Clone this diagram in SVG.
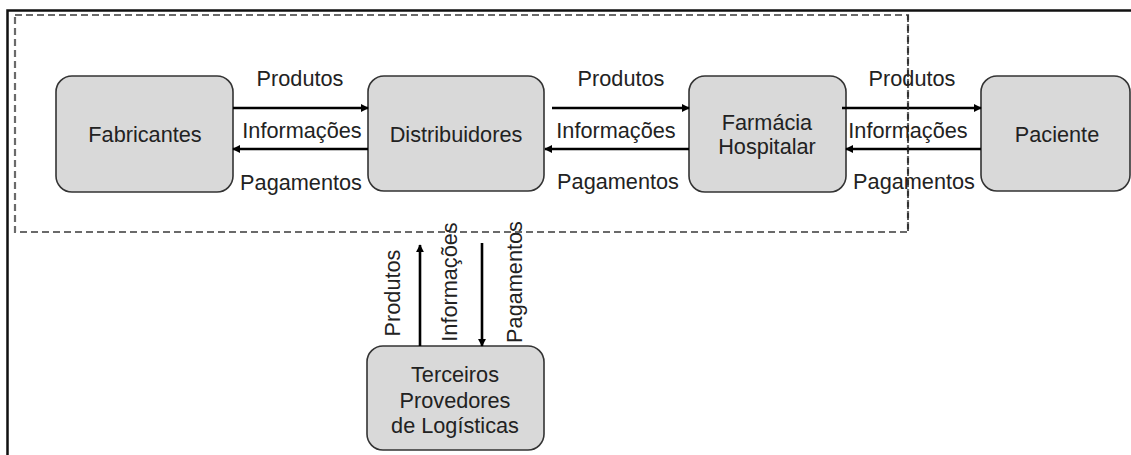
<svg xmlns="http://www.w3.org/2000/svg" width="1131" height="455" viewBox="0 0 1131 455">
<style>
.box{fill:#d9d9d9;stroke:#333;stroke-width:1.6}
.t{font-family:"Liberation Sans",Arial,sans-serif;font-size:21.7px;fill:#222;text-anchor:middle}
.c{stroke:#000;stroke-width:2.6;fill:none}
</style>
<defs>
<marker id="ah" viewBox="0 0 10 10" refX="9" refY="5" markerWidth="3.2" markerHeight="3.2" orient="auto" markerUnits="strokeWidth">
<path d="M0,0 L10,5 L0,10 z" fill="#000"/>
</marker>
</defs>
<rect x="0" y="0" width="1131" height="455" fill="#fff"/>
<path d="M7.5,458 V10.5 H1135" fill="none" stroke="#111" stroke-width="2.5"/>
<rect x="15" y="15" width="893" height="217" fill="none" stroke="#6a6a6a" stroke-width="2.2" stroke-dasharray="7,4"/>
<g id="n-fabricantes">
<rect class="box" x="56" y="76" width="177" height="116" rx="16"/>
<text class="t" x="145" y="142">Fabricantes</text>
</g>
<g id="n-distribuidores">
<rect class="box" x="368" y="76" width="176" height="115" rx="16"/>
<text class="t" x="456" y="142">Distribuidores</text>
</g>
<g id="n-farmacia">
<rect class="box" x="689" y="76" width="157" height="116" rx="16"/>
<text class="t" x="767" y="130">Farmácia</text>
<text class="t" x="767" y="154">Hospitalar</text>
</g>
<g id="n-paciente">
<rect class="box" x="981" y="76" width="149" height="115" rx="16"/>
<text class="t" x="1057" y="142">Paciente</text>
</g>
<g id="n-terceiros">
<rect class="box" x="367" y="346" width="177" height="104" rx="16"/>
<text class="t" x="455" y="382">Terceiros</text>
<text class="t" x="455" y="408">Provedores</text>
<text class="t" x="455" y="433">de Logísticas</text>
</g>
<g id="connectors">
<line class="c" x1="233" y1="108" x2="368" y2="108" marker-end="url(#ah)"/>
<line class="c" x1="368" y1="149" x2="233" y2="149" marker-end="url(#ah)"/>
<line class="c" x1="552" y1="108" x2="689" y2="108" marker-end="url(#ah)"/>
<line class="c" x1="689" y1="149" x2="545" y2="149" marker-end="url(#ah)"/>
<line class="c" x1="842" y1="108" x2="981" y2="108" marker-end="url(#ah)"/>
<line class="c" x1="981" y1="149" x2="846" y2="149" marker-end="url(#ah)"/>
<line class="c" x1="420" y1="346" x2="420" y2="245" marker-end="url(#ah)"/>
<line class="c" x1="482" y1="243" x2="482" y2="346" marker-end="url(#ah)"/>
<text class="t" x="300" y="86">Produtos</text>
<text class="t" x="302" y="138">Informações</text>
<text class="t" x="301" y="190">Pagamentos</text>
<text class="t" x="621" y="86">Produtos</text>
<text class="t" x="616" y="138">Informações</text>
<text class="t" x="618" y="189">Pagamentos</text>
<text class="t" x="912" y="86">Produtos</text>
<text class="t" x="908" y="138">Informações</text>
<text class="t" x="914" y="189">Pagamentos</text>
<text class="t" transform="translate(400,293) rotate(-90)">Produtos</text>
<text class="t" transform="translate(457,282) rotate(-90)">Informações</text>
<text class="t" transform="translate(522,282) rotate(-90)">Pagamentos</text>
</g>
<line x1="908" y1="15" x2="908" y2="232" stroke="#222" stroke-width="1.5" stroke-dasharray="7,4"/>
</svg>
